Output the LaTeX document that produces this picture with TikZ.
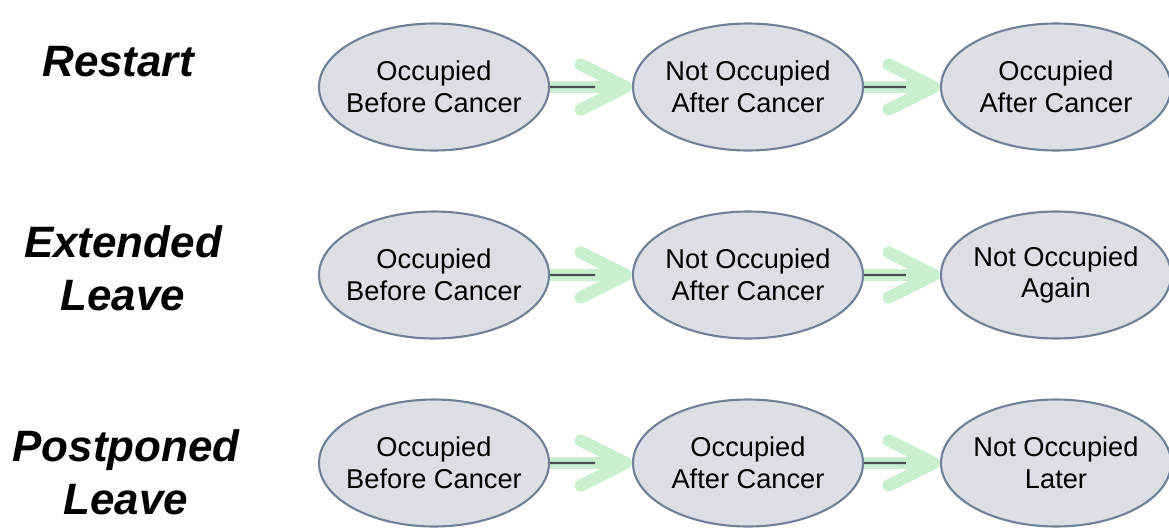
\documentclass[tikz,border=0pt]{standalone}
\usepackage{fontspec}
\setmainfont{Liberation Sans}
\usetikzlibrary{arrows.meta,shapes.geometric,calc}
\definecolor{ovalfill}{RGB}{221,223,231}
\definecolor{ovaldraw}{RGB}{112,128,152}
\definecolor{mint}{RGB}{200,240,206}
\definecolor{shadegray}{RGB}{72,80,82}
\newcommand{\stagearrow}{Straight Barb[length=9mm,width=9mm,round]}

\begin{document}
\begin{tikzpicture}[
  stage/.style={ellipse, draw=ovaldraw, line width=1.2pt, fill=ovalfill,
    minimum width=4.6cm, minimum height=2.54cm, inner xsep=-4mm, inner ysep=0pt,
    align=center, font=\fontsize{15.5}{18}\selectfont},
  kind/.style={align=center, font=\fontsize{25}{30}\selectfont\bfseries\itshape},
  flow/.style={-\stagearrow, draw=mint, line width=7pt},
  shadeline/.style={draw=shadegray, line width=1.2pt}
]
  % frame is (0,0) to (23.38,-10.62)
  \useasboundingbox (0,0) rectangle (23.38,-10.62);

  % row labels
  \node[kind] (restart) at (2.36,-1.24) {Restart};
  \node[kind] (extended) at (2.46,-5.36) {Extended\\Leave};
  \node[kind] (postponed) at (2.52,-9.44) {Postponed\\Leave};

  % restart
  \node[stage] (r1) at (8.68,-1.74) {Occupied\\Before Cancer};
  \node[stage] (r2) at (14.96,-1.74) {Not Occupied\\After Cancer};
  \node[stage] (r3) at (21.12,-1.74) {Occupied\\After Cancer};

  % extended leave
  \node[stage] (e1) at (8.68,-5.50) {Occupied\\Before Cancer};
  \node[stage] (e2) at (14.96,-5.50) {Not Occupied\\After Cancer};
  \node[stage] (e3) at (21.12,-5.50) {Not Occupied\\Again};

  % postponed leave
  \node[stage] (p1) at (8.68,-9.26) {Occupied\\Before Cancer};
  \node[stage] (p2) at (14.96,-9.26) {Occupied\\After Cancer};
  \node[stage] (p3) at (21.12,-9.26) {Not Occupied\\Later};

  % arrows
  \foreach \a/\b in {r1/r2,r2/r3,e1/e2,e2/e3,p1/p2,p2/p3}{
    \draw[flow] (\a.east) -- (\b.west);
    \draw[shadeline, yshift=-3.2pt] (\a.east) -- ($(\a.east)!0.55!(\b.west)$);
  }
\end{tikzpicture}
\end{document}
